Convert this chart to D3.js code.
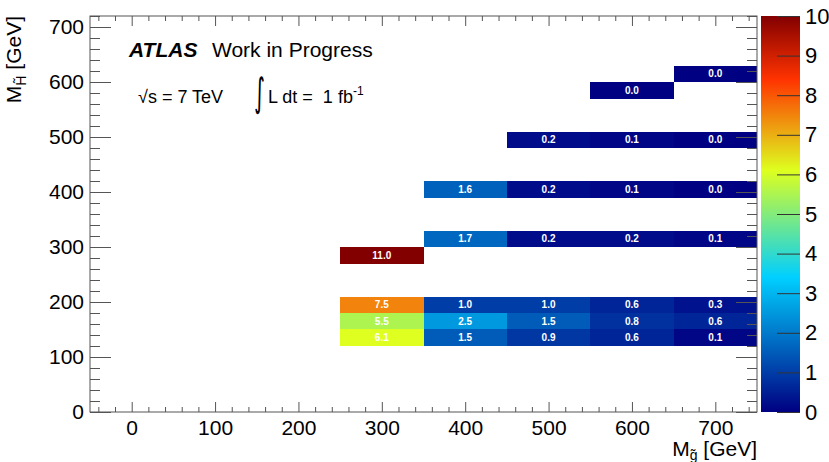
<!DOCTYPE html>
<html>
<head>
<meta charset="utf-8">
<script src="https://cdn.jsdelivr.net/npm/d3@7"></script>
<style>
  body { margin: 0; background: #fff; }
  svg { font-family: "Liberation Sans", Arial, sans-serif; }
</style>
</head>
<body>
<script>
// bin edges (GeV) of the 2d histogram
var xBin = 100, yBin = 30;
var yLow = [120, 150, 180, 270, 300, 390, 480, 570, 600];

// cell contents, one row per yLow entry, starting at rowStart
var rowStart = [250, 250, 250, 250, 350, 350, 450, 550, 650];
var rowValues = [
    [6.1, 1.5, 0.9, 0.6, 0.1],
    [5.5, 2.5, 1.5, 0.8, 0.6],
    [7.5, 1.0, 1.0, 0.6, 0.3],
    [11.0],
    [1.7, 0.2, 0.2, 0.1],
    [1.6, 0.2, 0.1, 0.0],
    [0.2, 0.1, 0.0],
    [0.0],
    [0.0]
];

var xTicks = [0, 100, 200, 300, 400, 500, 600, 700];
var yTicks = [0, 100, 200, 300, 400, 500, 600, 700];
var zTicks = [0, 1, 2, 3, 4, 5, 6, 7, 8, 9, 10];

// palette stops (fraction of z range) and colours
var palStops = [0.00, 0.34, 0.61, 0.84, 1.00];
var palColors = ["#000082", "#00cfff", "#deff1f", "#ff3300", "#820000"];


var W = 829, H = 462;
var pL = 90, pR = 757, pT = 16, pB = 412;
var zL = 761, zR = 800;

var x = d3.scaleLinear().domain([-50, 750]).range([pL, pR]);
var y = d3.scaleLinear().domain([0, 720]).range([pB, pT]);
var z = d3.scaleLinear().domain([0, 10]).range([pB, pT]);
var color = d3.scaleLinear()
    .domain(palStops.map(function (s) { return s * 10; }))
    .range(palColors)
    .clamp(true);

var svg = d3.select("body").append("svg")
    .attr("width", W)
    .attr("height", H);

// flatten cells
var cells = [];
rowValues.forEach(function (row, i) {
    row.forEach(function (v, j) {
        cells.push({ x0: rowStart[i] + j * xBin, y0: yLow[i], v: v });
    });
});

var cellG = svg.append("g");
cellG.selectAll("rect").data(cells).enter().append("rect")
    .attr("x", function (d) { return Math.round(x(d.x0)); })
    .attr("y", function (d) { return Math.round(y(d.y0 + yBin)); })
    .attr("width", function (d) { return Math.round(x(d.x0 + xBin)) - Math.round(x(d.x0)); })
    .attr("height", function (d) { return Math.round(y(d.y0)) - Math.round(y(d.y0 + yBin)); })
    .attr("shape-rendering", "crispEdges")
    .attr("fill", function (d) { return color(d.v); });

cellG.selectAll("text").data(cells).enter().append("text")
    .attr("x", function (d) { return x(d.x0 + xBin / 2); })
    .attr("y", function (d) { return y(d.y0 + yBin / 2); })
    .attr("dy", "0.35em")
    .attr("text-anchor", "middle")
    .attr("fill", "#fff")
    .attr("font-size", 10)
    .attr("font-weight", "bold")
    .text(function (d) { return d.v.toFixed(1); });

// axes, ROOT style: ticks inside the frame
var minorX = d3.range(-40, 750, 20).filter(function (v) { return v % 100 !== 0; });
var minorY = d3.range(20, 721, 20).filter(function (v) { return v % 100 !== 0; });
var axisCol = "#555";

function styleAxis(g) {
    g.select(".domain").remove();
    g.selectAll("line").attr("stroke", axisCol);
    g.selectAll("text").attr("fill", "#000").attr("font-size", 21)
        .attr("font-family", "Liberation Sans, Arial, sans-serif");
}

svg.append("g").attr("transform", "translate(0," + pB + ")")
   .call(d3.axisBottom(x).tickValues(xTicks).tickSize(-10).tickPadding(8))
   .call(styleAxis);
svg.append("g").attr("transform", "translate(0," + pB + ")")
   .call(d3.axisBottom(x).tickValues(minorX).tickSize(-5).tickFormat(""))
   .call(styleAxis);
svg.append("g").attr("transform", "translate(0," + pT + ")")
   .call(d3.axisTop(x).tickValues(xTicks).tickSize(-10).tickFormat(""))
   .call(styleAxis);
svg.append("g").attr("transform", "translate(0," + pT + ")")
   .call(d3.axisTop(x).tickValues(minorX).tickSize(-5).tickFormat(""))
   .call(styleAxis);

svg.append("g").attr("transform", "translate(" + pL + ",0)")
   .call(d3.axisLeft(y).tickValues(yTicks).tickSize(-21).tickPadding(6))
   .call(styleAxis);
svg.append("g").attr("transform", "translate(" + pL + ",0)")
   .call(d3.axisLeft(y).tickValues(minorY).tickSize(-10).tickFormat(""))
   .call(styleAxis);
svg.append("g").attr("transform", "translate(" + pR + ",0)")
   .call(d3.axisRight(y).tickValues(yTicks).tickSize(-21).tickFormat(""))
   .call(styleAxis);
svg.append("g").attr("transform", "translate(" + pR + ",0)")
   .call(d3.axisRight(y).tickValues(minorY).tickSize(-10).tickFormat(""))
   .call(styleAxis);

// frame
svg.append("rect")
   .attr("x", pL).attr("y", pT)
   .attr("width", pR - pL).attr("height", pB - pT)
   .attr("fill", "none").attr("stroke", axisCol).attr("stroke-width", 1);

// colour bar
var grad = svg.append("defs").append("linearGradient")
    .attr("id", "zgrad").attr("x1", 0).attr("y1", 1).attr("x2", 0).attr("y2", 0);
grad.selectAll("stop").data(palStops).enter().append("stop")
    .attr("offset", function (d) { return d; })
    .attr("stop-color", function (d, i) { return palColors[i]; });
svg.append("rect")
   .attr("x", zL).attr("y", pT)
   .attr("width", zR - zL).attr("height", pB - pT)
   .attr("fill", "url(#zgrad)");
svg.append("g").attr("transform", "translate(" + zR + ",0)")
   .call(d3.axisRight(z).tickValues(zTicks).tickSize(-23).tickPadding(5))
   .call(styleAxis)
   .call(function (g) {
       g.selectAll("line").attr("stroke", "#333");
       g.selectAll("text").attr("font-size", 22);
   });

// axis titles
var xt = svg.append("text")
   .attr("x", pR).attr("y", 456)
   .attr("text-anchor", "end").attr("font-size", 21);
xt.append("tspan").text("M");
xt.append("tspan").attr("font-size", 14).attr("dy", 4).text("g\u0303");
xt.append("tspan").attr("dy", -4).text(" [GeV]");

var yt = svg.append("text")
   .attr("transform", "translate(21," + pT + ") rotate(-90)")
   .attr("text-anchor", "end").attr("font-size", 21);
yt.append("tspan").text("M");
yt.append("tspan").attr("font-size", 14).attr("dy", 5).text("H\u0303");
yt.append("tspan").attr("dy", -5).text(" [GeV]");

// labels
var lab = svg.append("text").attr("x", 129).attr("y", 57).attr("font-size", 21);
lab.append("tspan").attr("font-weight", "bold").attr("font-style", "italic").text("ATLAS");
lab.append("tspan").attr("x", 212).text("Work in Progress");

svg.append("text").attr("x", 138).attr("y", 103).attr("font-size", 18)
   .text("\u221As = 7 TeV");
svg.append("text")
   .attr("transform", "translate(254,106) scale(0.8,1.5)")
   .attr("font-size", 26)
   .attr("font-family", "DejaVu Sans")
   .text("\u222B");
var lum = svg.append("text").attr("x", 268).attr("y", 103).attr("font-size", 18);
lum.append("tspan").text("L dt =\u00a0 1 fb");
lum.append("tspan").attr("font-size", 12).attr("dy", -8).text("-1");
</script>
</body>
</html>
